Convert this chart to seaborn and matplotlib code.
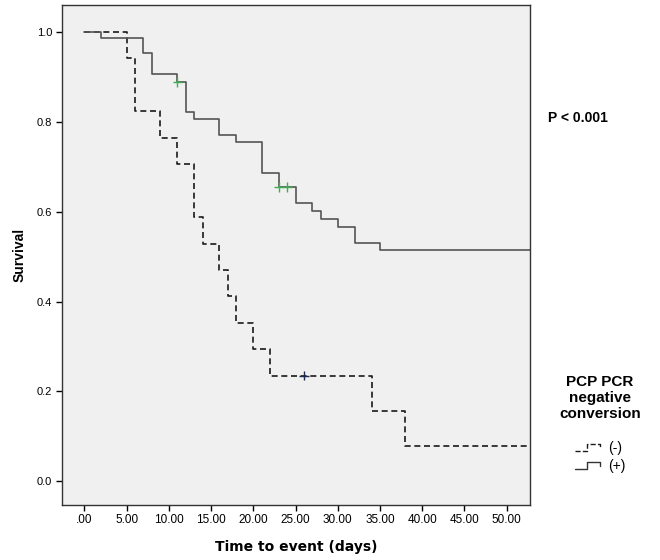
import numpy as np
import pandas as pd
import matplotlib
matplotlib.use("Agg")
import matplotlib.pyplot as plt
import seaborn as sns
from matplotlib.legend_handler import HandlerBase
from matplotlib.lines import Line2D

# Kaplan-Meier steps (time in days, survival)
neg_times = [0, 5, 6, 9, 11, 13, 14, 16, 17, 18, 20, 22, 34, 38, 55]
neg_surv = [1.0, 0.941, 0.824, 0.765, 0.706, 0.588, 0.529, 0.471, 0.412,
            0.353, 0.294, 0.235, 0.157, 0.078, 0.078]
pos_times = [0, 2, 7, 8, 11, 12, 13, 16, 18, 21, 23, 25, 27, 28, 30, 32, 35, 55]
pos_surv = [1.0, 0.986, 0.954, 0.906, 0.889, 0.822, 0.806, 0.771, 0.756,
            0.685, 0.655, 0.620, 0.601, 0.583, 0.565, 0.531, 0.514, 0.514]

# censored observations
neg_cens_t = [26]
neg_cens_s = [0.235]
pos_cens_t = [11, 23, 24]
pos_cens_s = [0.889, 0.655, 0.655]

groups = ["(-)", "(+)"]
x_ticks = [0, 5, 10, 15, 20, 25, 30, 35, 40, 45, 50]
x_tick_labels = [".00", "5.00", "10.00", "15.00", "20.00", "25.00",
                 "30.00", "35.00", "40.00", "45.00", "50.00"]
y_ticks = [0.0, 0.2, 0.4, 0.6, 0.8, 1.0]
y_tick_labels = ["0.0", "0.2", "0.4", "0.6", "0.8", "1.0"]


class StepHandler(HandlerBase):
    # small SPSS-like step icon for the legend
    def create_artists(self, legend, orig_handle, xdescent, ydescent,
                       width, height, fontsize, trans):
        xs = np.array([0.0, 0.45, 0.45, 0.9, 0.9]) * width - xdescent
        ys = np.array([0.1, 0.1, 0.85, 0.85, 0.45]) * height - ydescent
        line = Line2D(xs, ys, color=orig_handle.get_color(),
                      lw=orig_handle.get_linewidth(),
                      linestyle=orig_handle.get_linestyle())
        line.set_transform(trans)
        return [line]


def main():
    sns.set_theme(style="white")
    plt.rcParams['font.family'] = ['Liberation Sans', 'DejaVu Sans']
    plt.rcParams['text.color'] = 'black'
    plt.rcParams['axes.labelcolor'] = 'black'
    plt.rcParams['xtick.color'] = 'black'
    plt.rcParams['ytick.color'] = 'black'

    curves = pd.concat([
        pd.DataFrame({"time": neg_times, "surv": neg_surv, "group": groups[0]}),
        pd.DataFrame({"time": pos_times, "surv": pos_surv, "group": groups[1]}),
    ], ignore_index=True)
    cens = pd.concat([
        pd.DataFrame({"time": neg_cens_t, "surv": neg_cens_s, "group": groups[0]}),
        pd.DataFrame({"time": pos_cens_t, "surv": pos_cens_s, "group": groups[1]}),
    ], ignore_index=True)

    fig = plt.figure(figsize=(6.6, 5.6), dpi=100)
    ax = fig.add_axes([0.0935, 0.099, 0.7095, 0.892])
    ax.set_facecolor("#f0f0f0")

    sns.lineplot(data=curves, x="time", y="surv", hue="group", style="group",
                 palette={"(-)": "#1a1a1a", "(+)": "#555555"},
                 dashes={"(-)": (3.6, 2.2), "(+)": ""},
                 estimator=None, sort=False, drawstyle="steps-post",
                 lw=1.2, legend=False, ax=ax)
    sns.scatterplot(data=cens, x="time", y="surv", hue="group",
                    palette={"(-)": "#1c2a50", "(+)": "#3cb050"},
                    marker="+", s=45, linewidth=1.0, legend=False, ax=ax,
                    zorder=5)

    ax.set_xlim(-2.68, 52.76)
    ax.set_ylim(-0.052, 1.06)
    ax.set_xticks(x_ticks)
    ax.set_xticklabels(x_tick_labels, fontsize=8.5)
    ax.set_yticks(y_ticks)
    ax.set_yticklabels(y_tick_labels, fontsize=8)
    ax.tick_params(axis="both", direction="out", length=4, width=1,
                   color="black", pad=3, bottom=True, left=True)
    for sp in ax.spines.values():
        sp.set_color("#333333")
        sp.set_linewidth(1.0)

    ax.set_xlabel("Time to event (days)", fontsize=10, fontweight="bold",
                  family="DejaVu Sans", labelpad=10)
    ax.set_ylabel("Survival", fontsize=10, fontweight="bold", labelpad=7)

    fig.text(548 / 660, 1 - 118 / 560, "P < 0.001", fontsize=10,
             fontweight="bold", va="center", ha="left")

    handles = [Line2D([], [], color="#1a1a1a", lw=1.0, linestyle=(0, (2, 2))),
               Line2D([], [], color="#333333", lw=1.0)]
    leg = fig.legend(handles, groups, loc="center",
                     bbox_to_anchor=(600 / 660, 1 - 424 / 560),
                     frameon=False, fontsize=10,
                     title="PCP PCR\nnegative\nconversion",
                     title_fontproperties={"weight": "bold", "size": 11},
                     handler_map={Line2D: StepHandler()},
                     handlelength=2.0, handletextpad=0.4, labelspacing=0.3)
    leg.get_title().set_multialignment("center")
    leg._legend_box.sep = 14

    fig.savefig("out.png", dpi=100, facecolor="white")


if __name__ == "__main__":
    main()
